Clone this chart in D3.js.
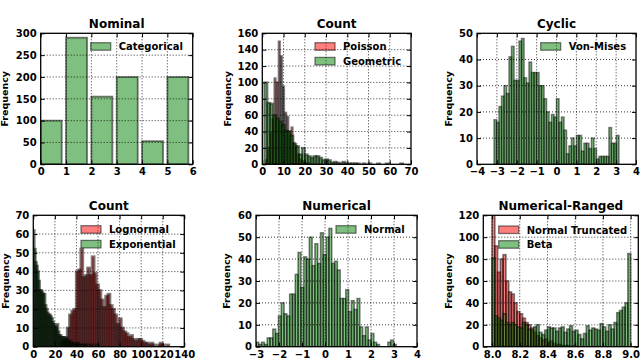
<!DOCTYPE html>
<html><head><meta charset="utf-8">
<script src="https://cdn.jsdelivr.net/npm/d3@7"></script>
<style>
body{margin:0;background:#fff}
svg text{font-family:"DejaVu Sans",sans-serif;font-weight:bold;fill:#000}
</style>
</head><body>
<svg id="chart" width="640" height="360"></svg>
<script>
// ---------------- DATA ----------------
const nominalCategories = [0, 1, 2, 3, 4, 5];
const nominalCounts = [100, 290, 155, 200, 53, 200];

const poissonValues = [2, 3, 4, 5, 6, 7, 8, 9, 10, 11, 12, 13, 14, 15, 16, 17, 18, 19, 20, 21, 22];
const poissonCounts = [5, 20, 38, 55, 105, 100, 150, 132, 95, 63, 58, 40, 45, 26, 22, 12, 6, 4, 2, 1, 1];
const geometricBinStart = 1, geometricBinWidth = 1.36;
const geometricCounts = [100, 75, 74, 60, 56, 52, 48, 41, 40, 35, 25, 22, 12, 20, 12, 10, 8, 10, 10, 8,
  5, 6, 5, 2, 3, 2, 1, 3, 1, 1, 1, 1, 1, 0, 1, 0, 1, 0, 0, 1, 0, 0, 1, 0, 0, 0, 0, 1];

const vonMisesBinStart = -3.1416, vonMisesBinWidth = 0.12566;
const vonMisesCounts = [17, 16, 22, 26, 30, 27, 41, 45, 32, 32, 47, 48, 33, 31, 39, 35, 35, 35, 30, 30,
  25, 20, 16, 19, 18, 25, 16, 18, 13, 4, 7, 10, 7, 11, 11, 5, 8, 8, 6, 10, 6, 2, 3, 3, 3, 3, 14, 8, 8, 11];

const lognormalBinStart = 25, lognormalBinWidth = 2.1;
const lognormalCounts = [2, 3, 5, 10, 17, 19, 20, 40, 41, 52, 37, 38, 42, 38, 48, 39, 33, 30, 25, 21,
  27, 28, 22, 20, 17, 12, 15, 10, 8, 7, 5, 6, 4, 3, 4, 4, 3, 2, 2, 1, 2, 1, 0, 1, 2, 1, 0, 1];
const exponentialBinStart = 0, exponentialBinWidth = 1;
const exponentialCounts = [62, 52, 45, 43, 40, 35, 30, 30, 29, 28, 28, 22, 20, 18, 17, 17, 16, 15, 13, 12,
  11, 10, 12, 8, 6, 6, 5, 5, 5, 4, 3, 4, 3, 2, 3, 2, 1, 2, 1, 1, 0, 2, 1, 1, 0, 1, 0, 1, 1, 0,
  0, 1, 0, 0, 1, 0, 0, 0, 1, 0];

const normalBinStart = -3.0, normalBinWidth = 0.122;
const normalCounts = [2, 1, 2, 1, 4, 4, 8, 6, 14, 20, 15, 14, 24, 24, 33, 43, 27, 41, 40, 50,
  37, 47, 38, 52, 42, 50, 54, 38, 39, 35, 22, 22, 26, 16, 21, 17, 22, 9, 5, 9,
  3, 6, 2, 1, 0, 0, 0, 2, 3, 1];

const rangedBinStart = 8.0, rangedBinWidth = 0.02;
const truncNormalCounts = [125, 92, 68, 80, 84, 60, 50, 48, 40, 32, 30, 26, 22, 20, 17, 13, 10, 8, 6, 7,
  4, 5, 3, 2, 2, 1, 1, 1, 0, 1, 0, 0, 0, 0, 0, 0, 0, 0, 0, 0, 0, 0, 0, 0, 0, 0, 0, 0, 0, 0];
const betaCounts = [81, 28, 26, 24, 30, 22, 20, 22, 20, 18, 17, 22, 20, 16, 15, 18, 20, 13, 11, 15,
  18, 17, 17, 14, 17, 18, 13, 16, 19, 14, 15, 11, 7, 12, 19, 15, 17, 16, 15, 21,
  18, 14, 20, 16, 22, 31, 33, 36, 40, 85];

const nominalXTicks = [0, 1, 2, 3, 4, 5, 6], nominalYTicks = [0, 50, 100, 150, 200, 250, 300];
const count1XTicks = [0, 10, 20, 30, 40, 50, 60, 70], count1YTicks = [0, 20, 40, 60, 80, 100, 120, 140, 160];
const cyclicXTicks = [-4, -3, -2, -1, 0, 1, 2, 3, 4], cyclicYTicks = [0, 10, 20, 30, 40, 50];
const count2XTicks = [0, 20, 40, 60, 80, 100, 120, 140], count2YTicks = [0, 10, 20, 30, 40, 50, 60, 70];
const numXTicks = [-3, -2, -1, 0, 1, 2, 3, 4], numYTicks = [0, 10, 20, 30, 40, 50, 60];
const rangedXTicks = [8.0, 8.2, 8.4, 8.6, 8.8, 9.0], rangedYTicks = [0, 20, 40, 60, 80, 100, 120];

// ---------------- DRAWING ----------------
const svg = d3.select("#chart");
const RED = "#ff0000", GREEN = "#008000";
let clipId = 0;

function binsFrom(start, width, counts) {
  return counts.map((c, i) => ({x0: start + i * width, x1: start + (i + 1) * width, n: c}));
}

function panel(opt) {
  const g = svg.append("g");
  const x = d3.scaleLinear().domain(opt.xDomain).range([opt.left, opt.right]);
  const y = d3.scaleLinear().domain(opt.yDomain).range([opt.bottom, opt.top]);
  const id = "clip" + (clipId++);
  g.append("clipPath").attr("id", id).append("rect")
    .attr("x", opt.left).attr("y", opt.top)
    .attr("width", opt.right - opt.left).attr("height", opt.bottom - opt.top);
  const plot = g.append("g").attr("clip-path", `url(#${id})`);
  opt.series.forEach(s => {
    plot.append("g").selectAll("rect").data(s.bins.filter(d => d.n > 0)).join("rect")
      .attr("x", d => x(d.x0)).attr("width", d => x(d.x1) - x(d.x0))
      .attr("y", d => y(d.n)).attr("height", d => y(0) - y(d.n))
      .attr("fill", s.color).attr("fill-opacity", 0.5)
      .attr("stroke", "#000").attr("stroke-opacity", 0.5).attr("stroke-width", opt.sw || 1.5);
  });
  // grid (drawn above bars, classic style)
  const grid = g.append("g").attr("stroke", "#000").attr("stroke-width", 0.8)
    .attr("stroke-dasharray", "1,2");
  opt.xTicks.forEach(t => {
    const px = x(t);
    if (px > opt.left + 1 && px < opt.right - 1)
      grid.append("line").attr("x1", px).attr("x2", px).attr("y1", opt.top).attr("y2", opt.bottom);
  });
  opt.yTicks.forEach(t => {
    const py = y(t);
    if (py > opt.top + 1 && py < opt.bottom - 1)
      grid.append("line").attr("y1", py).attr("y2", py).attr("x1", opt.left).attr("x2", opt.right);
  });
  // axes (inward ticks)
  const fmt = opt.xFormat || (d => String(d).replace("-", "\u2212"));
  const ax = [
    d3.axisBottom(x).tickValues(opt.xTicks).tickFormat(fmt).tickSizeInner(-4).tickSizeOuter(0).tickPadding(4),
    d3.axisLeft(y).tickValues(opt.yTicks).tickSizeInner(-4).tickSizeOuter(0).tickPadding(4),
    d3.axisTop(x).tickValues(opt.xTicks).tickFormat("").tickSizeInner(-4).tickSizeOuter(0),
    d3.axisRight(y).tickValues(opt.yTicks).tickFormat("").tickSizeInner(-4).tickSizeOuter(0)
  ];
  const tr = [`translate(0,${opt.bottom})`, `translate(${opt.left},0)`, `translate(0,${opt.top})`, `translate(${opt.right},0)`];
  ax.forEach((a, i) => {
    const ag = g.append("g").attr("transform", tr[i]).call(a);
    ag.select(".domain").remove();
    ag.selectAll("line").attr("stroke", "#000").attr("stroke-width", 1);
    ag.selectAll("text").attr("font-size", 10).attr("font-family", null).attr("fill", "#000");
  });
  g.selectAll(".tick").attr("font-family", null);
  // frame
  g.append("rect").attr("x", opt.left).attr("y", opt.top)
    .attr("width", opt.right - opt.left).attr("height", opt.bottom - opt.top)
    .attr("fill", "none").attr("stroke", "#000").attr("stroke-width", 1.3);
  // title
  g.append("text").attr("x", (opt.left + opt.right) / 2).attr("y", opt.top - 5)
    .attr("text-anchor", "middle").attr("font-size", 12).text(opt.title);
  // y label
  const cy = (opt.top + opt.bottom) / 2;
  g.append("text").attr("transform", `translate(${opt.ylabX},${cy}) rotate(-90)`)
    .attr("text-anchor", "middle").attr("font-size", 9.5).text("Frequency");
  // legend
  opt.series.forEach((s, i) => {
    const ly = opt.legY + i * 14.7;
    g.append("rect").attr("x", opt.legX).attr("y", ly).attr("width", 20).attr("height", 7.5)
      .attr("fill", s.color).attr("fill-opacity", 0.5)
      .attr("stroke", "#000").attr("stroke-opacity", 0.5).attr("stroke-width", 1.3);
    g.append("text").attr("x", opt.legX + 28).attr("y", ly + 7.6).attr("font-size", 10).text(s.name);
  });
}

// Panel 1: Nominal
panel({
  left: 40.7, right: 192.7, top: 33.3, bottom: 164.3, xDomain: [0, 6], yDomain: [0, 300],
  xTicks: nominalXTicks, yTicks: nominalYTicks, title: "Nominal", ylabX: 8, sw: 1.8,
  legX: 90.7, legY: 42.7,
  series: [{name: "Categorical", color: GREEN,
    bins: nominalCategories.map((c, i) => ({x0: c, x1: c + 0.83, n: nominalCounts[i]}))}]
});

// Panel 2: Count (Poisson / Geometric)
panel({
  left: 262.3, right: 411, top: 33.3, bottom: 164.3, xDomain: [0, 70], yDomain: [0, 160],
  xTicks: count1XTicks, yTicks: count1YTicks, title: "Count", ylabX: 231, sw: 2.1,
  legX: 315, legY: 42.7,
  series: [
    {name: "Poisson", color: RED,
      bins: poissonValues.map((v, i) => ({x0: v - 0.25, x1: v + 0.25, n: poissonCounts[i]}))},
    {name: "Geometric", color: GREEN, bins: binsFrom(geometricBinStart, geometricBinWidth, geometricCounts)}
  ]
});

// Panel 3: Cyclic
panel({
  left: 477, right: 636, top: 33.3, bottom: 164.3, xDomain: [-4, 4], yDomain: [0, 50],
  xTicks: cyclicXTicks, yTicks: cyclicYTicks, title: "Cyclic", ylabX: 452,
  legX: 540.7, legY: 42.7,
  series: [{name: "Von-Mises", color: GREEN, bins: binsFrom(vonMisesBinStart, vonMisesBinWidth, vonMisesCounts)}]
});

// Panel 4: Count (Lognormal / Exponential)
panel({
  left: 33.3, right: 184.3, top: 215.3, bottom: 346.7, xDomain: [0, 140], yDomain: [0, 70],
  xTicks: count2XTicks, yTicks: count2YTicks, title: "Count", ylabX: 8.5, sw: 2.5,
  legX: 81, legY: 225.7,
  series: [
    {name: "Lognormal", color: RED, bins: binsFrom(lognormalBinStart, lognormalBinWidth, lognormalCounts)},
    {name: "Exponential", color: GREEN, bins: binsFrom(exponentialBinStart, exponentialBinWidth, exponentialCounts)}
  ]
});

// Panel 5: Numerical
panel({
  left: 256, right: 417, top: 215.3, bottom: 346.7, xDomain: [-3, 4], yDomain: [0, 60],
  xTicks: numXTicks, yTicks: numYTicks, title: "Numerical", ylabX: 230,
  legX: 336, legY: 225.7,
  series: [{name: "Normal", color: GREEN, bins: binsFrom(normalBinStart, normalBinWidth, normalCounts)}]
});

// Panel 6: Numerical-Ranged
panel({
  left: 483.3, right: 638.3, top: 215.3, bottom: 346.7, xDomain: [7.937, 9.055], yDomain: [0, 120],
  xTicks: rangedXTicks, yTicks: rangedYTicks, title: "Numerical-Ranged", ylabX: 452, sw: 1.7,
  xFormat: d3.format(".1f"),
  legX: 498.7, legY: 226,
  series: [
    {name: "Normal Truncated", color: RED, bins: binsFrom(rangedBinStart, rangedBinWidth, truncNormalCounts)},
    {name: "Beta", color: GREEN, bins: binsFrom(rangedBinStart, rangedBinWidth, betaCounts)}
  ]
});
</script>
</body></html>
